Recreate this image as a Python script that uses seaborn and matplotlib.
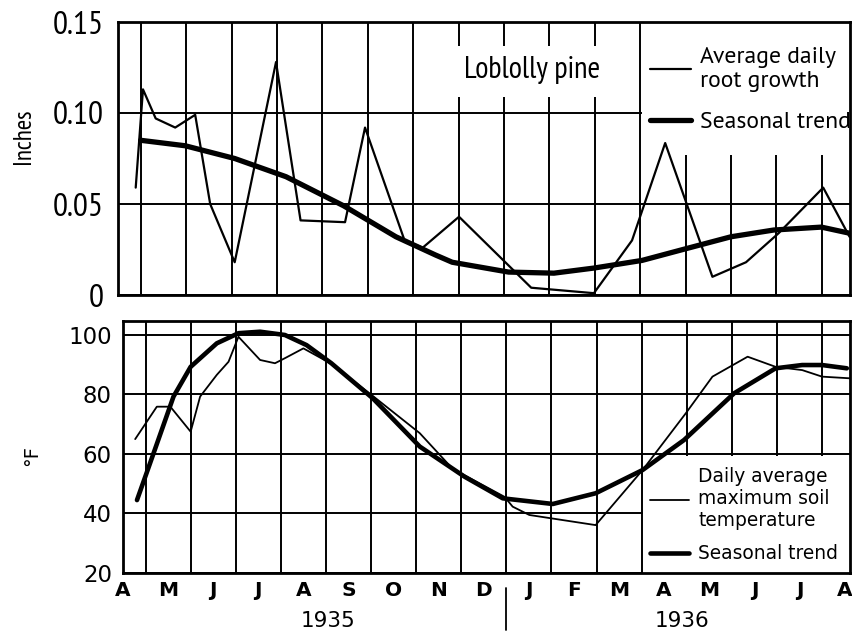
import matplotlib
matplotlib.use("Agg")
import matplotlib.pyplot as plt
import matplotlib.transforms as mtransforms
from matplotlib.patches import Rectangle
from matplotlib.lines import Line2D
from matplotlib.font_manager import FontProperties
import seaborn as sns

# ---------------- data (x = months since 1 April 1935) ----------------
month_labels = ["A", "M", "J", "J", "A", "S", "O", "N", "D",
                "J", "F", "M", "A", "M", "J", "J", "A"]
year_labels = ["1935", "1936"]

root_month = [0.89, 1.05, 1.33, 1.76, 2.20, 2.53, 3.07, 3.98, 4.52, 5.50, 5.94,
              6.81, 7.21, 8.01, 9.60, 10.98, 11.82, 12.55, 13.59, 14.33, 15.05,
              16.03, 16.61]
root_growth = [0.059, 0.113, 0.097, 0.092, 0.099, 0.050, 0.018, 0.128, 0.041,
               0.040, 0.092, 0.030, 0.026, 0.043, 0.004, 0.001, 0.030, 0.0835,
               0.010, 0.018, 0.034, 0.059, 0.032]

root_trend_month = [1.0, 1.98, 3.07, 4.20, 5.47, 6.62, 7.49, 7.86, 9.10, 10.1,
                    10.98, 12.04, 12.94, 14.0, 14.94, 15.99, 16.6]
root_trend = [0.085, 0.082, 0.075, 0.065, 0.049, 0.032, 0.022, 0.018, 0.0126,
              0.012, 0.0148, 0.019, 0.025, 0.032, 0.0357, 0.0373, 0.034]

temp_month = [0.77, 1.25, 1.55, 2.0, 2.21, 2.58, 2.84, 3.06, 3.54, 3.87, 4.09,
              4.50, 5.12, 6.04, 7.08, 7.81, 8.96, 9.14, 9.51, 10.98, 12.02,
              12.98, 13.57, 14.35, 14.97, 15.56, 16.0, 16.66]
temp = [65.0, 75.9, 75.9, 67.5, 79.3, 86.6, 91.0, 99.4, 91.6, 90.5, 92.2, 95.5,
        90.3, 79.5, 67.0, 55.0, 45.6, 42.3, 39.5, 36.1, 54.6, 73.7, 86.0, 92.7,
        89.3, 88.2, 86.0, 85.4]

temp_trend_month = [0.81, 1.10, 1.62, 2.0, 2.58, 3.06, 3.54, 4.09, 4.57, 5.12,
                    6.04, 7.08, 8.07, 8.92, 10.03, 10.98, 12.02, 12.94, 14.05,
                    14.97, 15.56, 16.0, 16.55]
temp_trend = [44.5, 56.9, 79.3, 89.3, 97.2, 100.6, 101.1, 100.0, 96.6, 90.5,
              78.7, 62.5, 52.4, 45.1, 43.2, 46.8, 54.6, 64.7, 80.4, 88.8, 89.9,
              89.9, 88.8]

root_yticks = [0, 0.05, 0.10, 0.15]
root_ytick_labels = ["0", "0.05", "0.10", "0.15"]
temp_yticks = [20, 40, 60, 80, 100]
temp_ytick_labels = ["20", "40", "60", "80", "100"]

# ---------------- style ----------------
sns.set_style("white")
plt.rcParams['font.family'] = ['DejaVu Sans']
for k in ('text.color', 'axes.labelcolor', 'xtick.color', 'ytick.color'):
    plt.rcParams[k] = 'black'
NARROW = ['PT Sans Narrow', 'DejaVu Sans']
SEMI = ['PT Sans', 'DejaVu Sans']
WIDE = ['DejaVu Sans']

W, H = 852, 635
fig = plt.figure(figsize=(W / 100, H / 100), dpi=100)


def axrect(l, t, r, b):
    return [l / W, 1 - b / H, (r - l) / W, (b - t) / H]


ax1 = fig.add_axes(axrect(118, 22, 850, 295))
ax2 = fig.add_axes(axrect(123, 321, 850, 573))
XLIM = (0.6, 16.62)
boundaries = list(range(1, 17))
mids = [k + 0.5 for k in range(len(month_labels))]

for ax in (ax1, ax2):
    ax.set_xlim(*XLIM)
    ax.set_axisbelow(True)
    ax.set_xticks(mids)
    ax.set_xticks(boundaries, minor=True)
    ax.grid(True, which='minor', axis='x', color='black', lw=1.4)
    ax.grid(True, which='major', axis='y', color='black', lw=1.4)
    ax.grid(False, which='major', axis='x')
    ax.tick_params(which='both', length=0)
    for s in ax.spines.values():
        s.set_visible(True)
        s.set_color('black')
        s.set_linewidth(2.0)

# ---------------- top panel ----------------
ax1.set_ylim(0, 0.15)
ax1.set_yticks(root_yticks)
ax1.set_yticklabels(root_ytick_labels, family=NARROW, fontsize=24)
ax1.tick_params(axis='y', pad=10)
ax1.set_xticklabels([])

ax1.add_patch(Rectangle((12.04, 0.077), XLIM[1] - 12.04, 0.15 - 0.077,
                        facecolor='white', edgecolor='none', zorder=1))
ax1.add_patch(Rectangle((7.75, 0.109), 11.96 - 7.75, 0.137 - 0.109,
                        facecolor='white', edgecolor='none', zorder=1))

sns.lineplot(x=root_month, y=root_growth, ax=ax1, color='black', lw=1.6,
             estimator=None, sort=False, zorder=3)
sns.lineplot(x=root_trend_month, y=root_trend, ax=ax1, color='black', lw=3.8,
             estimator=None, sort=False, zorder=3)
ax1.set_xlabel("")
ax1.set_ylabel("Inches", family=NARROW, fontsize=18)
ax1.yaxis.set_label_coords(-0.114, 0.58)

ax1.text(9.62, 0.1235, "Loblolly pine", family=NARROW, fontsize=22,
         ha='center', va='center', zorder=4)

h1 = [Line2D([], [], color='black', lw=1.6), Line2D([], [], color='black', lw=3.8)]
ax1.legend(h1, ["Average daily\nroot growth", "Seasonal trend"],
           loc='upper left', bbox_to_anchor=(0.727, 0.91), frameon=False,
           borderpad=0, borderaxespad=0, handlelength=1.75, handletextpad=0.35,
           labelspacing=0.85, prop=FontProperties(family=SEMI, size=17))

# ---------------- bottom panel ----------------
ax2.set_ylim(20, 104.7)
ax2.set_yticks(temp_yticks)
ax2.set_yticklabels(temp_ytick_labels, family=WIDE, fontsize=16.5)
ax2.tick_params(axis='y', pad=8)
ax2.set_xticklabels(month_labels, family=WIDE, fontsize=14.5, fontweight='bold')
ax2.tick_params(axis='x', pad=6)

ax2.add_patch(Rectangle((12.04, 20), XLIM[1] - 12.04, 59.3 - 20,
                        facecolor='white', edgecolor='none', zorder=1))

sns.lineplot(x=temp_month, y=temp, ax=ax2, color='black', lw=1.3,
             estimator=None, sort=False, zorder=3)
sns.lineplot(x=temp_trend_month, y=temp_trend, ax=ax2, color='black', lw=3.3,
             estimator=None, sort=False, zorder=3)
ax2.set_xlabel("")
ax2.set_ylabel("°F", family=WIDE, fontsize=14)
ax2.yaxis.set_label_coords(-0.112, 0.468)

h2 = [Line2D([], [], color='black', lw=1.3), Line2D([], [], color='black', lw=3.3)]
ax2.legend(h2, ["Daily average\nmaximum soil\ntemperature", "Seasonal trend"],
           loc='upper left', bbox_to_anchor=(0.725, 0.42), frameon=False,
           borderpad=0, borderaxespad=0, handlelength=2.1, handletextpad=0.5,
           labelspacing=0.75, prop=FontProperties(family=WIDE, size=13.4))

trans = mtransforms.blended_transform_factory(ax2.transData, ax2.transAxes)
ax2.text(5.05, -0.19, year_labels[0], family=WIDE, transform=trans,
         fontsize=15.5, ha='center', va='center')
ax2.text(12.9, -0.19, year_labels[1], family=WIDE, transform=trans,
         fontsize=15.5, ha='center', va='center')
ax2.plot([9, 9], [-0.06, -0.226], transform=trans, color='black', lw=1.3,
         clip_on=False)

fig.savefig("out.png", dpi=100)
